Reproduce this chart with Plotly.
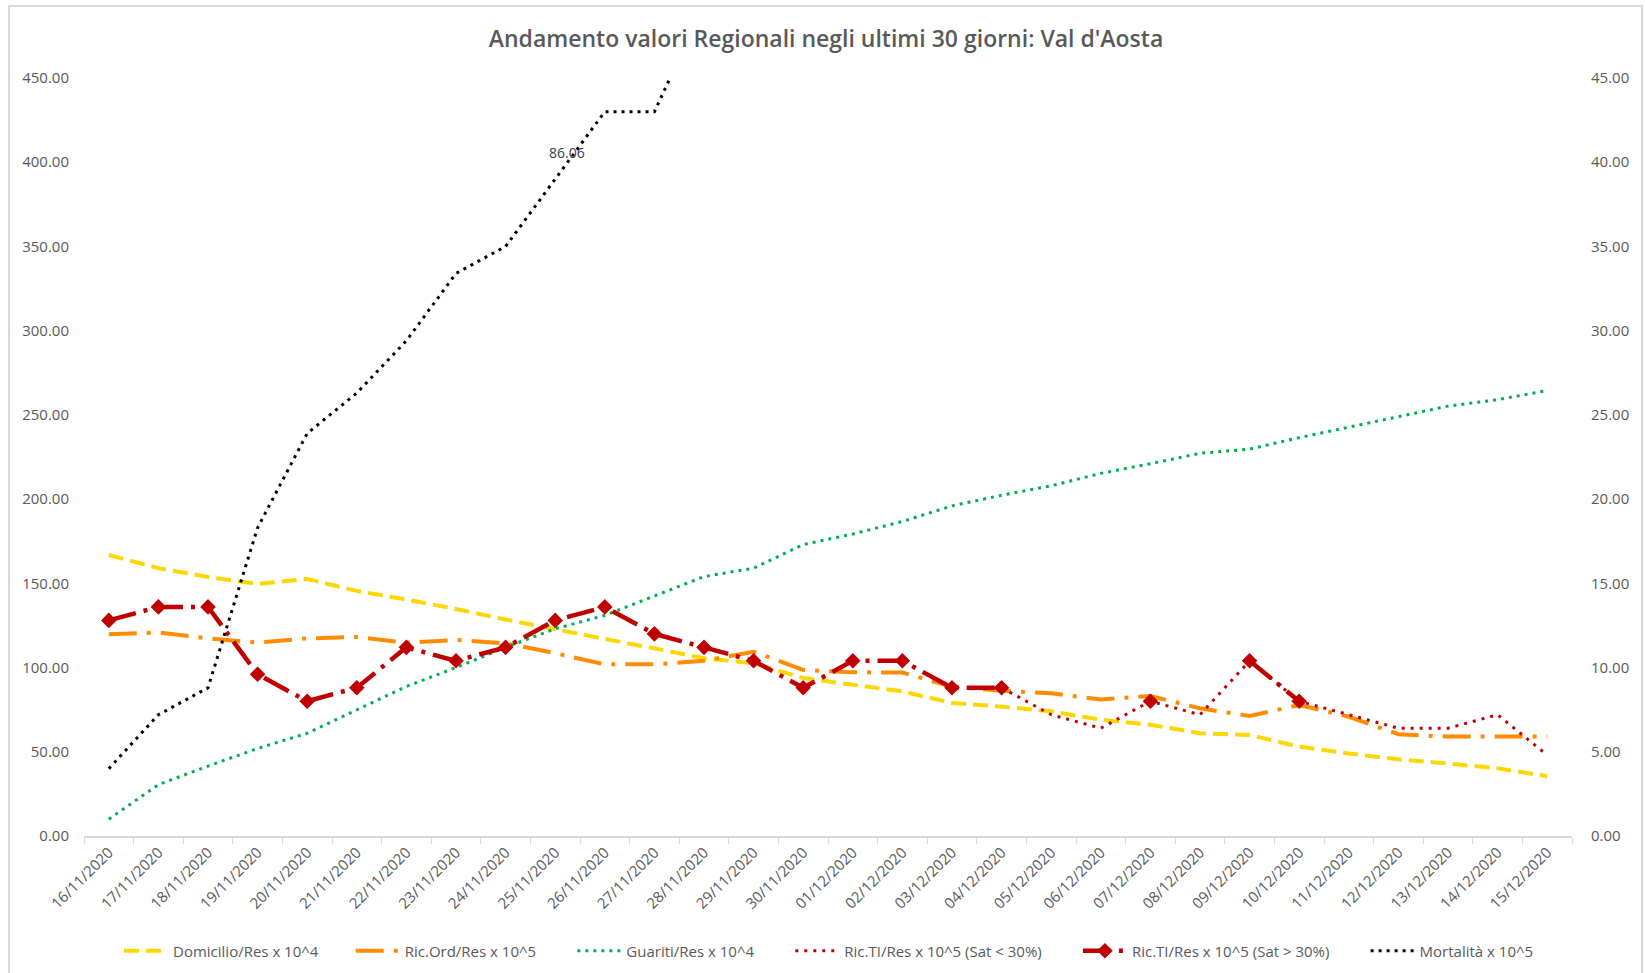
import plotly.graph_objects as go

# Dates of the last 30 days
giorni = [
    "16/11/2020", "17/11/2020", "18/11/2020", "19/11/2020", "20/11/2020",
    "21/11/2020", "22/11/2020", "23/11/2020", "24/11/2020", "25/11/2020",
    "26/11/2020", "27/11/2020", "28/11/2020", "29/11/2020", "30/11/2020",
    "01/12/2020", "02/12/2020", "03/12/2020", "04/12/2020", "05/12/2020",
    "06/12/2020", "07/12/2020", "08/12/2020", "09/12/2020", "10/12/2020",
    "11/12/2020", "12/12/2020", "13/12/2020", "14/12/2020", "15/12/2020",
]

# Left-axis series
domicilio = [166.8, 159.0, 153.8, 149.6, 152.6, 145.5, 140.3, 134.8, 128.5, 122.5,
             117.0, 111.4, 105.5, 102.5, 93.8, 89.8, 85.8, 79.0, 76.8, 74.0,
             69.0, 66.0, 61.0, 60.0, 53.0, 49.0, 45.5, 43.0, 40.2, 35.5]
ric_ord = [119.8, 120.8, 117.3, 114.8, 117.3, 118.2, 114.8, 116.4, 114.4, 108.5,
           101.9, 101.9, 104.0, 109.4, 98.6, 97.2, 97.0, 88.6, 86.3, 84.7,
           81.1, 83.1, 75.8, 71.2, 77.8, 70.8, 60.4, 59.0, 59.0, 59.0]
guariti = [10.0, 30.5, 41.5, 52.0, 61.0, 74.7, 88.8, 100.0, 112.0, 123.0,
           131.0, 142.5, 154.0, 159.0, 173.0, 179.3, 186.7, 196.0, 202.3, 207.9,
           215.3, 221.0, 227.2, 229.7, 236.5, 242.7, 249.0, 255.2, 259.0, 264.5]

# Right-axis series (intensive care split by saturation, mortality)
ti_sat_bassa = [None] * 18 + [8.8, 7.2, 6.4, 8.0, 7.2, 10.4, 8.0, 7.2, 6.4, 6.4, 7.2, 4.8]
ti_sat_alta = [12.8, 13.6, 13.6, 9.6, 8.0, 8.8, 11.2, 10.4, 11.2, 12.8,
               13.6, 12.0, 11.2, 10.4, 8.8, 10.4, 10.4, 8.8, 8.8, None,
               None, 8.0, None, 10.4, 8.0, None, None, None, None, None]
mortalita = [4.0, 7.2, 8.8, 18.3, 23.9, 26.3, 29.4, 33.4, 35.0, 39.0,
             43.0, 43.0, 49.3] + [None] * 16 + [86.06]

TESTO = "#595959"
FONT = "Open Sans"
NB = "\u00a0"  # non-breaking space used to widen legend entries


def voce(testo, coda):
    return testo + NB * coda


fig = go.Figure()

fig.add_trace(go.Scatter(
    x=giorni, y=domicilio, name=voce("Domicilio/Res x 10^4", 7), mode="lines",
    line=dict(color="#FFD700", width=4, dash="15px,7px"), yaxis="y"))
fig.add_trace(go.Scatter(
    x=giorni, y=ric_ord, name=voce("Ric.Ord/Res x 10^5", 8), mode="lines",
    line=dict(color="#FF8C00", width=4, dash="28px,10px,4px,10px"), yaxis="y"))
fig.add_trace(go.Scatter(
    x=giorni, y=guariti, name=voce("Guariti/Res x 10^4", 8), mode="lines",
    line=dict(color="#00B050", width=3, dash="3px,5px"), yaxis="y"))
fig.add_trace(go.Scatter(
    x=giorni, y=ti_sat_bassa, name=voce("Ric.TI/Res x 10^5 (Sat < 30%)", 8), mode="lines",
    line=dict(color="#C00000", width=3, dash="3px,6px"), yaxis="y2"))
fig.add_trace(go.Scatter(
    x=giorni, y=ti_sat_alta, name=voce("Ric.TI/Res x 10^5 (Sat > 30%)", 8),
    mode="lines+markers",
    line=dict(color="#C00000", width=4.5, dash="28px,8px,4px,8px"),
    marker=dict(symbol="diamond", size=12, color="#C00000"), yaxis="y2"))
fig.add_trace(go.Scatter(
    x=giorni, y=mortalita, name="Mortalità x 10^5", mode="lines", connectgaps=True,
    line=dict(color="#000000", width=3, dash="3px,5px"), yaxis="y2"))

# Page geometry (pixels)
L, R, T, B = 84, 73, 78, 137
W, H = 1645, 973
pw, ph = W - L - R, H - T - B


def px_x(p):
    return (p - L) / pw


def px_y(p):
    return (H - B - p) / ph


# Data label of the latest mortality value
fig.add_annotation(
    x=px_x(567), y=px_y(152), xref="paper", yref="paper",
    xanchor="center", yanchor="middle", text=f"{mortalita[-1]:.2f}",
    showarrow=False, font=dict(family=FONT, size=14, color="#404040"))

# Outer chart frame
fig.add_shape(type="rect", xref="paper", yref="paper",
              x0=px_x(9), x1=px_x(1642), y0=px_y(980), y1=px_y(6),
              line=dict(color="#D9D9D9", width=2), fillcolor="rgba(0,0,0,0)", layer="below")

fig.update_layout(
    width=W, height=H, autosize=False,
    margin=dict(l=L, r=R, t=T, b=B),
    paper_bgcolor="white", plot_bgcolor="white",
    font=dict(family=FONT, color=TESTO),
    title=dict(text="Andamento valori Regionali negli ultimi 30 giorni: Val d'Aosta",
               x=px_x(826), xref="paper", xanchor="center",
               y=1 - 39 / H, yref="container", yanchor="middle",
               font=dict(family=FONT, size=23, color=TESTO, weight=600)),
    xaxis=dict(type="category", range=[-0.5, 29.5], tickson="boundaries",
               ticks="outside", ticklen=6, automargin=False,
               tickcolor="#D9D9D9", showline=True, linecolor="#D9D9D9", linewidth=1.5,
               showgrid=False, zeroline=False, tickangle=-45,
               tickfont=dict(family=FONT, size=15, color=TESTO)),
    yaxis=dict(range=[0, 450], dtick=50, tickformat=".2f", showgrid=False,
               zeroline=False, showline=False, ticks="", ticklabelstandoff=14,
               automargin=False,
               tickfont=dict(family=FONT, size=15, color=TESTO)),
    yaxis2=dict(range=[0, 45], dtick=5, tickformat=".2f", showgrid=False,
                zeroline=False, showline=False, ticks="", overlaying="y", side="right",
                ticklabelstandoff=18, automargin=False,
                tickfont=dict(family=FONT, size=15, color=TESTO)),
    legend=dict(orientation="h", x=px_x(119), xanchor="left",
                y=1 - 951 / H, yref="container", yanchor="middle",
                bgcolor="rgba(0,0,0,0)", itemwidth=44,
                font=dict(family=FONT, size=15, color=TESTO)),
)

fig.write_html("out.html")
